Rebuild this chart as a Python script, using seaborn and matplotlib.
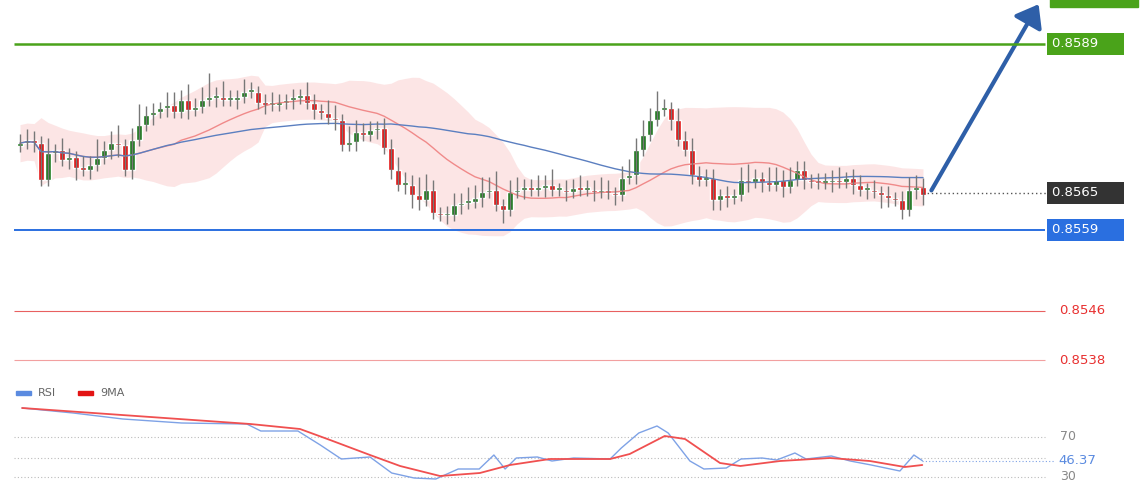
import numpy as np
import pandas as pd
import matplotlib.pyplot as plt
import seaborn as sns
from matplotlib.patches import FancyArrowPatch

sns.set_theme(style="white")
plt.rcParams["font.family"] = ["DejaVu Sans"]

# %% data
base = 0.8550
close_pips = [23.0, 23.5, 23.0, 17.1, 21.4, 21.9, 20.3, 20.8, 19.0, 18.7, 19.5, 20.6, 21.9, 23.0, 22.7,
              18.7, 23.5, 25.9, 27.5, 28.0, 28.7, 29.2, 28.0, 30.0, 28.4, 28.8, 30.0, 30.3, 30.5, 30.0,
              30.0, 30.5, 31.3, 31.3, 29.5, 29.2, 29.2, 29.5, 30.0, 30.3, 30.8, 29.5, 28.4, 27.9, 27.1,
              26.7, 22.7, 23.2, 24.8, 24.3, 25.1, 25.5, 22.2, 18.7, 16.3, 16.3, 14.6, 13.8, 15.5, 11.7,
              11.4, 11.4, 13.0, 13.4, 13.5, 14.2, 15.1, 15.5, 13.0, 12.2, 15.1, 15.5, 15.8, 15.5, 15.8,
              16.3, 15.5, 15.5, 15.1, 15.8, 15.5, 15.5, 15.1, 15.5, 15.0, 14.6, 17.4, 17.9, 21.9, 24.3,
              26.7, 28.4, 28.7, 26.7, 23.5, 21.9, 17.9, 17.1, 17.4, 13.8, 14.6, 14.2, 14.6, 17.1, 16.7,
              17.4, 16.7, 16.3, 17.1, 15.9, 17.1, 18.7, 17.1, 16.7, 16.6, 16.7, 17.1, 16.7, 17.4, 16.3,
              15.5, 15.5, 15.1, 14.6, 14.2, 13.8, 12.2, 15.5, 15.9, 14.6]
open_pips = [22.6] + close_pips[:-1]
upper_wick = [1.5, 1.8, 1.5, 1.2, 2.5, 1.0, 2.0, 1.5, 1.0, 2.0, 1.5, 3.0, 1.5, 2.0, 3.0,
              1.0, 2.0, 3.5, 1.5, 1.5, 1.0, 2.0, 2.0, 1.5, 2.5, 1.5, 2.0, 4.0, 1.5, 2.5,
              1.5, 1.0, 2.0, 1.5, 1.0, 1.5, 2.0, 1.5, 1.0, 1.5, 1.0, 2.0, 1.5, 1.0, 2.0,
              2.0, 1.0, 2.5, 2.0, 1.5, 1.5, 1.0, 1.5, 1.5, 2.0, 2.0, 1.5, 3.0, 2.5, 1.5,
              1.0, 1.5, 2.0, 1.5, 2.5, 2.0, 2.5, 2.0, 3.0, 1.0, 2.0, 2.0, 1.5, 1.5, 2.0,
              1.5, 2.5, 1.0, 1.5, 1.5, 2.0, 1.5, 1.5, 2.0, 1.5, 1.0, 2.0, 2.5, 2.0, 2.5,
              2.0, 3.0, 1.5, 1.0, 2.0, 1.5, 2.0, 1.5, 1.5, 1.5, 1.0, 1.5, 1.0, 2.0, 2.5,
              1.5, 1.0, 2.5, 2.0, 1.5, 2.0, 1.5, 1.5, 1.0, 1.5, 1.5, 1.5, 2.0, 1.0, 1.5,
              1.5, 1.0, 1.5, 1.0, 1.5, 1.0, 1.5, 2.0, 2.0, 1.5]
lower_wick = [1.0, 1.0, 1.5, 1.0, 1.0, 1.5, 1.0, 1.5, 2.0, 1.0, 1.5, 1.0, 1.0, 1.5, 2.0,
              1.0, 1.5, 1.0, 1.0, 1.5, 1.0, 1.5, 1.0, 1.0, 1.5, 1.0, 1.0, 1.0, 1.5, 1.0,
              1.0, 1.5, 1.0, 1.0, 1.0, 1.5, 1.0, 1.0, 1.0, 1.5, 1.0, 1.0, 1.5, 1.0, 1.0,
              1.5, 1.0, 1.0, 1.5, 1.0, 1.0, 1.5, 1.0, 1.5, 1.0, 1.5, 2.0, 1.5, 1.0, 1.0,
              1.0, 1.5, 1.0, 1.5, 1.0, 1.0, 1.5, 1.0, 1.0, 2.0, 1.0, 1.0, 1.5, 1.0, 1.0,
              1.5, 1.0, 1.0, 1.5, 1.0, 1.0, 1.0, 1.5, 1.0, 1.0, 1.5, 1.0, 1.0, 1.5, 1.0,
              1.0, 1.0, 1.0, 1.5, 1.0, 1.0, 1.5, 1.0, 1.0, 1.5, 1.5, 1.5, 1.0, 1.0, 1.5,
              1.0, 1.5, 1.0, 1.0, 1.5, 1.0, 1.0, 1.5, 1.0, 1.0, 1.0, 1.5, 1.0, 1.0, 1.5,
              1.0, 1.5, 1.0, 2.0, 1.5, 1.0, 1.5, 1.0, 1.5, 1.5]

levels = [0.8589, 0.8559, 0.8546, 0.8538]
last_price = 0.8565

rsi_idx = [0.3, 7.6, 14.7, 23.1, 32.4, 34.4, 39.7, 42.9, 45.9, 50.0, 53.1, 56.3, 59.4, 62.6, 65.6,
           67.7, 69.3, 70.9, 73.9, 76.0, 79.1, 84.3, 85.9, 88.4, 91.0, 92.6, 95.7, 97.7, 100.9,
           103.0, 106.0, 108.1, 110.7, 112.3, 115.9, 118.6, 121.6, 125.7, 127.7, 128.9]
rsi_val = [99, 94, 88, 84, 83, 76, 76, 62, 48, 50, 34, 29, 28, 38, 38, 52, 38, 49, 50, 46, 49, 48,
           59, 74, 81, 74, 46, 38, 39, 48, 49, 47, 54, 48, 51, 46, 42, 36, 52, 46.37]
ma9_idx = [0.3, 32.9, 40.0, 44.3, 50.0, 54.3, 60.0, 65.7, 70.0, 75.7, 84.3, 87.1, 92.1, 95.0,
           100.0, 102.9, 108.6, 115.7, 121.4, 126.4, 128.9]
ma9_val = [99, 83, 78, 67, 52, 41, 31, 34, 42, 48, 48, 53, 71, 68, 44, 41, 46, 49, 46, 40, 42]

# %% frame
df = pd.DataFrame({"t": np.arange(len(close_pips)),
                   "open": base + np.array(open_pips) / 1e4,
                   "close": base + np.array(close_pips) / 1e4})
df["high"] = df[["open", "close"]].max(axis=1) + np.array(upper_wick) / 1e4
df["low"] = df[["open", "close"]].min(axis=1) - np.array(lower_wick) / 1e4
df["ma20"] = df.close.rolling(20, min_periods=1).mean()
df["ma50"] = df.close.rolling(50, min_periods=1).mean()
sd = df.close.rolling(20, min_periods=2).std().bfill()
width = np.maximum(1.8 * sd, 0.0003)
df["bb_up"] = df.ma20 + width
df["bb_lo"] = df.ma20 - width

fig = plt.figure(figsize=(11.4, 5), dpi=100)
xl = (-20 / 7, 1120 / 7)
ax = fig.add_axes([0, 0.24, 1, 0.76])
ax.set_xlim(*xl)
ax.set_ylim(0.8559 - 150 / 62000, 0.8559 + 230 / 62000)
ax.axis("off")

ax.fill_between(df.t, df.bb_lo, df.bb_up, color="#fbd8d8", alpha=0.65, lw=0)
sns.lineplot(data=df, x="t", y="ma20", ax=ax, color="#f08a8a", lw=1)
sns.lineplot(data=df, x="t", y="ma50", ax=ax, color="#5b7fc0", lw=1)

up = df.close >= df.open
ax.vlines(df.t, df.low, df.high, color="#777777", lw=1)
ax.bar(df.t[up], (df.close - df.open)[up].clip(lower=0.00004), bottom=df.open[up],
       width=0.75, color="#1f7a1f")
ax.bar(df.t[~up], (df.open - df.close)[~up].clip(lower=0.00004), bottom=df.close[~up],
       width=0.75, color="#e31414")

lc = ["#4aa31a", "#2a6fe0", "#e86060", "#f2a0a0"]
lw = [1.8, 1.4, 0.8, 0.8]
x0, x1 = (14 - 20) / 7, (1045 - 20) / 7
for lv, c, w in zip(levels, lc, lw):
    ax.hlines(lv, x0, x1, color=c, lw=w)

lab_x = (1052 - 20) / 7
def box(y, txt, fc):
    ax.text(lab_x, y, txt, color="white", fontsize=9.5, va="center", ha="left",
            bbox=dict(boxstyle="square,pad=0.35", fc=fc, ec="none"))
    ax.add_patch(plt.Polygon([[lab_x - 0.5, y], [lab_x, y + 0.00013], [lab_x, y - 0.00013]], color=fc))
box(levels[0], "0.8589     ", "#4aa31a")
box(levels[1], "0.8559     ", "#2a6fe0")
box(last_price, "0.8565     ", "#333333")
ax.add_patch(plt.Rectangle((lab_x - 0.3, 0.85950), 12.6, 0.0003, color="#4aa31a", clip_on=True))
ax.text(lab_x + 1, levels[2], "0.8546", color="#e83030", fontsize=9.5, va="center")
ax.text(lab_x + 1, levels[3], "0.8538", color="#e83030", fontsize=9.5, va="center")
ax.hlines(last_price, df.t.iloc[-1], lab_x - 0.5, color="#555555", lw=1, ls=(0, (1, 2)))

ax.add_patch(FancyArrowPatch((df.t.iloc[-1] + 1, last_price), ((1040 - 20) / 7, 0.85958),
                             arrowstyle="-|>,head_length=8,head_width=6", mutation_scale=1.6,
                             color="#2e5fa8", lw=3))

# %% RSI
ax2 = fig.add_axes([0, 0, 1, 0.24])
ax2.set_xlim(*xl)
ax2.set_ylim(7, 127)
ax2.axis("off")
for lv in [70, 49, 30]:
    ax2.hlines(lv, (14 - 20) / 7, (1045 - 20) / 7, color="#bbbbbb", lw=0.8, ls=(0, (1, 2)))
sns.lineplot(x=rsi_idx, y=rsi_val, ax=ax2, color="#7ea2e6", lw=1)
sns.lineplot(x=ma9_idx, y=ma9_val, ax=ax2, color="#f05050", lw=1.3)
ax2.hlines(rsi_val[-1], rsi_idx[-1], (1055 - 20) / 7, color="#7ea2e6", lw=0.8, ls=(0, (1, 2)))
ax2.text((1060 - 20) / 7, 70, "70", color="#888888", fontsize=9, va="center")
ax2.text((1060 - 20) / 7, 30, "30", color="#888888", fontsize=9, va="center")
ax2.text((1058 - 20) / 7, rsi_val[-1], f"{rsi_val[-1]:.2f}", color="#5b8be0", fontsize=9.5, va="center")
ax2.add_patch(plt.Rectangle(((16 - 20) / 7, 112), 2.2, 4, color="#5b8be0"))
ax2.text((38 - 20) / 7, 114, "RSI", color="#666666", fontsize=8, va="center")
ax2.add_patch(plt.Rectangle(((78 - 20) / 7, 112), 2.2, 4, color="#e31414"))
ax2.text((100 - 20) / 7, 114, "9MA", color="#666666", fontsize=8, va="center")

fig.savefig("out.png", dpi=100)
